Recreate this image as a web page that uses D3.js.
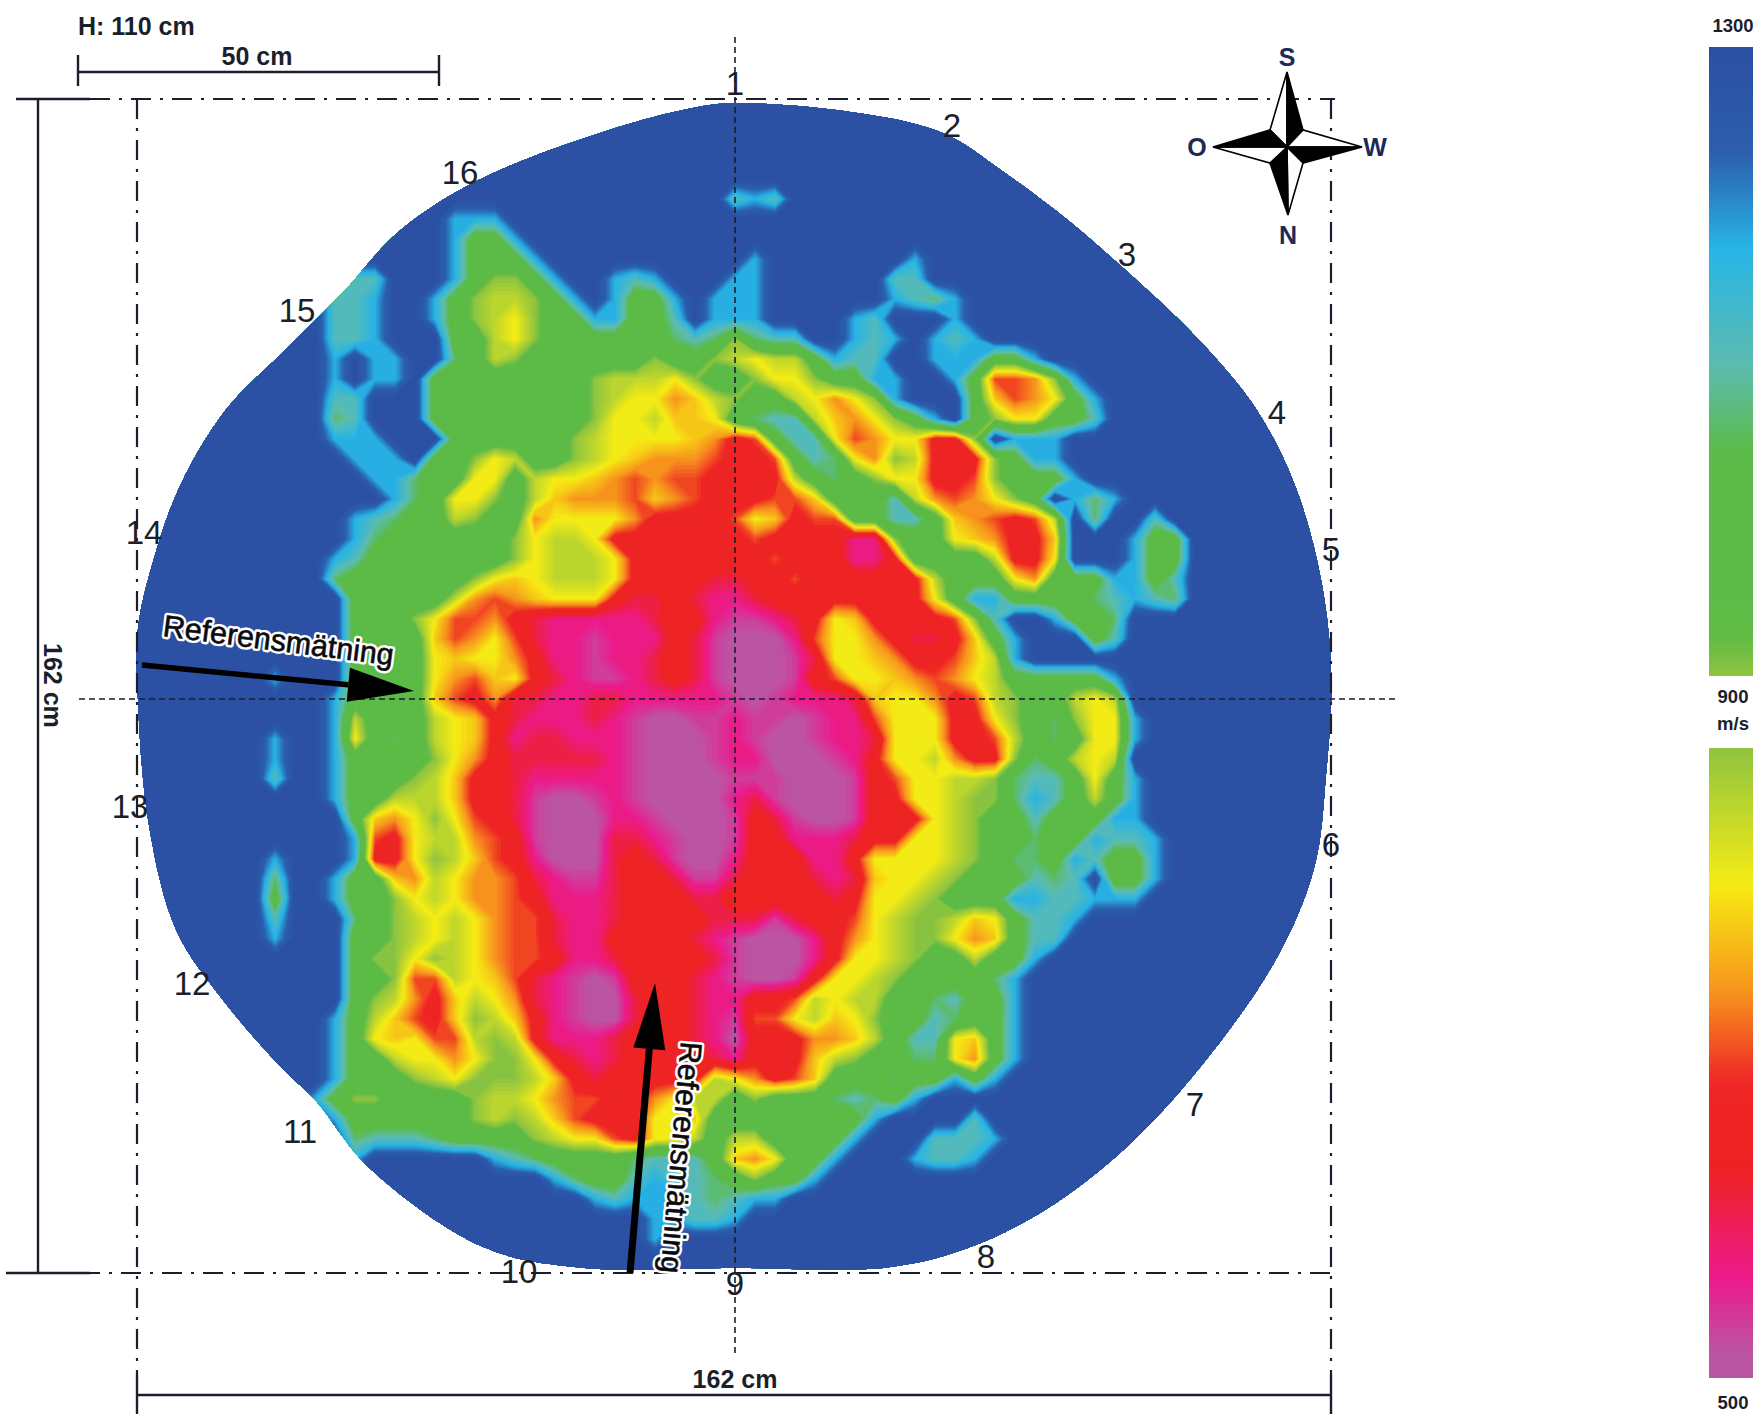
<!DOCTYPE html>
<html><head><meta charset="utf-8">
<script src="https://cdn.jsdelivr.net/npm/d3@7/dist/d3.min.js"></script>
<style>html,body{margin:0;background:#fff}svg{display:block}text{font-family:"Liberation Sans",Arial,sans-serif}</style>
</head><body><svg id="c" width="1759" height="1414"></svg>
<script>
// velocity (m/s) carried by each code character of the grid
const levelCodes = "0123456789abcdef";
const levelVelocity = [510,535,565,610,660,705,745,785,813,860,900,990,1060,1110,1172,1300];
// velocity map, 1 character per cell, 61 columns, groups of 10
const gridRows = [
"","","","","",
"ffffffffff ffffffffff ffffffffff dedfffffff",
"ffffffffff ffffffeeef",
"ffffffffff ffffffebbe",
"ffffffffff ffffffebbb efffffffff fefffffffe",
"ffffffffff fddfffebaa beffedefff eeffffffdd",
"ffffffffff ddeffeba99 abefebbefe eeffffffed ceffffffff",
"ffffffffff ddeffeba98 abbeebbdfe eeffffedff feffffffff",
"ffffffffff ddefffbb98 abbbbbbcdc acddffedef edefffffff",
"ffffffffff efeeffcb9a bbbbbbabba 9899beddff eeebbeffff",
"ffffffffff efeefbbbbb bbba9998ab ba88abbeef feb556aeff",
"ffffffffff ddfffbbbbb bbba988679 abb9868aef ffb7568bef",
"ffffffffff cdfffbbbbb bbba889778 bcdd9768ab efba88bbdf",
"ffffffffff eeefffbbbb bba9888876 45bdd85688 44afeeefff",
"ffffffffff feeefbba89 bba9876665 445bdc86a9 444abeefff",
"ffffffffff ffeecbb88b 9887656554 4449bcba88 445abbbeff",
"ffffffffff fffecb88ab 9766657654 44557bbbd9 6568abfece",
"ffffffffff fedcbb9abb 6888864444 587455bbdd b765459fcf fdffffffff",
"ffffffffff fecbbbbbba 8998444444 45444422ab b876447fff ebbfffffff",
"ffffffffff edbbbbbbba 8999844444 445444224b bbb9448fff ebbfffffff",
"ffffffffff cbbbbbba87 8999844443 3445444444 9bbb86bbbe ebdfffffff",
"ffffffffff fbbbbb9656 7888433432 2344444444 8beebbbbcd edcfffffff",
"ffffffffff fbbba85564 3222223442 1123487444 45adffebbc",
"ffffffffff fbbbb75685 3221222431 0002588643 347befffbd",
"ffffffffff fbbbb87886 4221223431 0001388764 4579efffff",
"fffffffeff fbbbb86578 4321123431 0001458876 5689bbbbbe",
"ffffffffff ebbbb75463 3223322222 1012223788 6459abb989",
"ffffffffff e9bbb98743 2223210011 2110122588 8448abca88 efffffffff",
"fffffffeff e8bcb98742 3322210001 2100122388 84459bcb88 efffffffff",
"fffffffeff ebbbba8643 3333210001 2200012488 9644acb989",
"fffffffdff ebbba97443 2222210000 1110001458 899acddb8b efffffffff",
"ffffffffff ebb9997443 1001210000 2310001448 89aacedb9b efffffffff",
"ffffffffff fb768a8543 1000221000 1431001444 89abbdbbbe efffffffff",
"ffffffffff fe54899654 1000332100 1442223448 89abbcbbed deffffffff",
"fffffffeff fe448a9754 2000343100 2444224888 89abccbedb beffffffff",
"fffffffcff ebb7698665 3211344311 3444323788 9abbbdcdfb beffffffff",
"fffffffbff ebba898665 4222344433 4444434889 abbbeeddee efffffffff",
"fffffffdff fcba989865 5322344443 331344589a a978bddeff",
"fffffffeff fbba989865 5322444432 100024689a a867bddfff",
"ffffffffff fbaa8a9865 5422344443 100024889a bb9bbeffff",
"ffffffffff fbba559875 3210144432 1001488 9ab bbbcefffff",
"ffffffffff fba9647986 3210034432 24459899bb cdbbefffff",
"ffffffffff eb97547a97 4210034432 1558978abb dcbbefffff",
"ffffffffff eb878559a9 4222344432 04446679bd d87befffff",
"ffffffffff ebb98868aa 8432344443 244479abbc c86befffff",
"ffffffffff ebbba98aaa 9743444449 86457bbbcb bebeffffff",
"fffffffffe baabbbba99 8655446899 babbbcdcbe ffffffffff",
"ffffffffff ebbbbbba9a 975444887b bbbbbbbeff ffdfffffff",
"ffffffffff fcdddcbbbb a98854889b 99bbbbefff dddeffffff",
"ffffffffff feffffffed cbbbbcdddb 768bbefffe ddefffffff",
"ffffffffff ffffffffff fecbbdeddc babbefffff",
"ffffffffff ffffffffff fffedeeedc deefffffff",
"ffffffffff ffffffffff ffffffeedd efffffffff",
"ffffffffff ffffffffff ffffffefff",
"",""
];
// measured outline of the cross-section, cm from the centre
const outlineX = [0,15.7,28.2,36.6,44.5,52.4,62.8,70.7,76,79.6,80.9,80.2,78.6,73.4,62.8,52.4,41.9,31.5,20.9,0,-21.4,-34.2,-49.7,-57,-61.2,-69.5,-75.8,-79.5,-81,-81,-79,-75.3,-69,-61.2,-53.3,-45.5,-35,-19.3,-6.1];
const outlineY = [82.2,81,78.1,72.6,66.6,59.7,49.7,40,29.4,16,2.8,-10.3,-23.2,-35.9,-51.2,-62.5,-70.6,-75.8,-78.4,-78.5,-78.4,-75.6,-64.6,-55.3,-51.2,-41.5,-31.9,-17.5,-0.1,9.7,18.8,29.4,40,48,56,64.6,71.5,77.8,81.5];
const sensorLabels = ["1","2","3","4","5","6","7","8","9","10","11","12","13","14","15","16"];
const colorStops = [500,517,563,631,688,745,813,900,926,1041,1098,1172,1232,1300];
const colorValues = ["#b857a4","#bc54a3","#ec1a8c","#ee2224","#ee2624","#f7941d","#f6ec13","#8fc43f","#5dbb46","#5bbb46","#5cbcb0","#27b4e6","#2b5fae","#2b4fa3"];
const legendTicks = ["1300","900","m/s","500"];

const W=1759,H=1414, CX=735, CY=699;
const svg=d3.select("#c");
const x=d3.scaleLinear([0,81],[CX,CX+597]);
const y=d3.scaleLinear([0,81],[CY,CY-587]);
const color=d3.scaleLinear(colorStops,colorValues).clamp(true);
const nCols=61, nRows=gridRows.length;
const values=[];
gridRows.forEach(r=>{const s=r.replace(/ /g,'').padEnd(nCols,'f');
  for(let i=0;i<nCols;i++) values.push(levelVelocity[levelCodes.indexOf(s[i])]);});
const colX=d3.scaleLinear([0.5,60.5],[135,1335]);
const rowY=d3.scaleLinear([0.5,nRows-0.5],[99,99+20*(nRows-1)]);
const thresholds=d3.range(500,1300,8);
const contours=d3.contours().size([nCols,nRows]).smooth(true).thresholds(thresholds)(values);
const proj=d3.geoTransform({point(px,py){this.stream.point(colX(px),rowY(py));}});
const geo=d3.geoPath(proj);
const outline=d3.line().x(d=>x(d[0])).y(d=>y(d[1])).curve(d3.curveCatmullRomClosed);
const defs=svg.append("defs");
defs.append("clipPath").attr("id","map").append("path")
  .attr("d",outline(outlineX.map((v,i)=>[v,outlineY[i]])));
const map=svg.append("g").attr("clip-path","url(#map)");
map.selectAll("path").data(contours).join("path").attr("d",geo)
  .attr("fill",d=>color(d.value+4));

const ink="#1a1f2b";
function ln(x1,y1,x2,y2,w,dash){const l=svg.append("line").attr("x1",x1).attr("y1",y1).attr("x2",x2).attr("y2",y2)
  .attr("stroke",ink).attr("stroke-width",w||2); if(dash)l.attr("stroke-dasharray",dash);return l;}
const dd="20,9,3,9";
ln(79,CY,1395,CY,1.6,"6,4");
ln(CX,37,CX,1355,1.6,"6,4");
ln(90,99,1335,99,2.2,dd);
ln(80,1273,1335,1273,2.2,dd);
ln(137,99,137,1375,2.2,dd);
ln(1331,99,1331,1375,2.2,dd);
ln(38,99,38,1273,2.4); ln(16,99,90,99,2.4); ln(6,1273,90,1273,2.4);
ln(78,72,439,72,2.6); ln(78,55,78,86,2.4); ln(439,55,439,86,2.4);
ln(137,1395,1331,1395,2.4); ln(137,1375,137,1414,2.4); ln(1331,1375,1331,1414,2.4);

function arrow(x1,y1,x2,y2,len,hw,sw){
  const a=Math.atan2(y2-y1,x2-x1),c=Math.cos(a),s=Math.sin(a);
  const bx=x2-len*c,by=y2-len*s;
  svg.append("line").attr("x1",x1).attr("y1",y1).attr("x2",bx).attr("y2",by).attr("stroke","#000").attr("stroke-width",sw);
  svg.append("path").attr("fill","#000").attr("d",d3.line()([[x2,y2],[bx-hw*s,by+hw*c],[bx+hw*s,by-hw*c]])+"Z");
}
arrow(142,665,414,691,66,17,5.5);
arrow(630,1273,655,983,66,16,7);

function txt(s,tx,ty,size,weight,anchor,rot,fill){
  const t=svg.append("text").text(s).attr("font-size",size).attr("font-weight",weight||"normal")
    .attr("text-anchor",anchor||"start").attr("fill",fill||ink);
  t.attr("transform",`translate(${tx},${ty})`+(rot?` rotate(${rot})`:""));
  return t;
}
[[162,636,7.3],[681,1041,95]].forEach(p=>{
  txt("Referensmätning",p[0],p[1],30.5,"normal","start",p[2],"#fff").attr("stroke","#fff").attr("stroke-width",5.5).attr("stroke-linejoin","round");
  txt("Referensmätning",p[0],p[1],30.5,"normal","start",p[2],"#0b0b0f").attr("stroke","#0b0b0f").attr("stroke-width",0.6);
});
const sensorPx=[[735,83],[952,125],[1127,254],[1277,412],[1331,549],[1331,844],[1195,1104],[986,1256],[735,1283],[519,1271],[300,1131],[192,983],[130,806],[144,532],[297,310],[460,172]];
sensorLabels.forEach((s,i)=>txt(s,sensorPx[i][0],sensorPx[i][1]+12,33,"normal","middle"));
txt("H: 110 cm",78,35,25,"bold");
txt("50 cm",257,65,25,"bold","middle");
txt("162 cm",735,1388,25,"bold","middle");
txt("162 cm",44,643,25,"bold","start",90);

const cc=[1287,147], tipN=[1287,72], tipS=[1288,215], tipW=[1213,147], tipE=[1362,147];
const cNW=[1270,130],cNE=[1303,130],cSE=[1303,163],cSW=[1270,163];
const poly=(pts,fill)=>svg.append("path").attr("d",d3.line()(pts)+"Z").attr("fill",fill).attr("stroke","#000").attr("stroke-width",1.6).attr("stroke-linejoin","miter");
poly([tipN,cNW,cc],"#fff"); poly([tipN,cNE,cc],"#000");
poly([tipE,cNE,cc],"#fff"); poly([tipE,cSE,cc],"#000");
poly([tipS,cSE,cc],"#fff"); poly([tipS,cSW,cc],"#000");
poly([tipW,cSW,cc],"#fff"); poly([tipW,cNW,cc],"#000");
const navy="#1c2a5a";
txt("S",1287,66,25,"bold","middle",0,navy);
txt("O",1197,156,25,"bold","middle",0,navy);
txt("W",1375,156,25,"bold","middle",0,navy);
txt("N",1288,244,25,"bold","middle",0,navy);

function bar(id,v0,v1,y0,y1){
  const g=defs.append("linearGradient").attr("id",id).attr("x1",0).attr("x2",0).attr("y1",0).attr("y2",1);
  d3.range(0,1.0001,0.02).forEach(t=>g.append("stop").attr("offset",t).attr("stop-color",color(v0+(v1-v0)*t)));
  svg.append("rect").attr("x",1709).attr("y",y0).attr("width",44).attr("height",y1-y0).attr("fill",`url(#${id})`);
}
bar("b1",1300,900,47,676);
bar("b2",900,500,748,1378);
const legendY=[32,703,730,1409];
legendTicks.forEach((s,i)=>txt(s,1733,legendY[i],18.5,"bold","middle"));
</script></body></html>
